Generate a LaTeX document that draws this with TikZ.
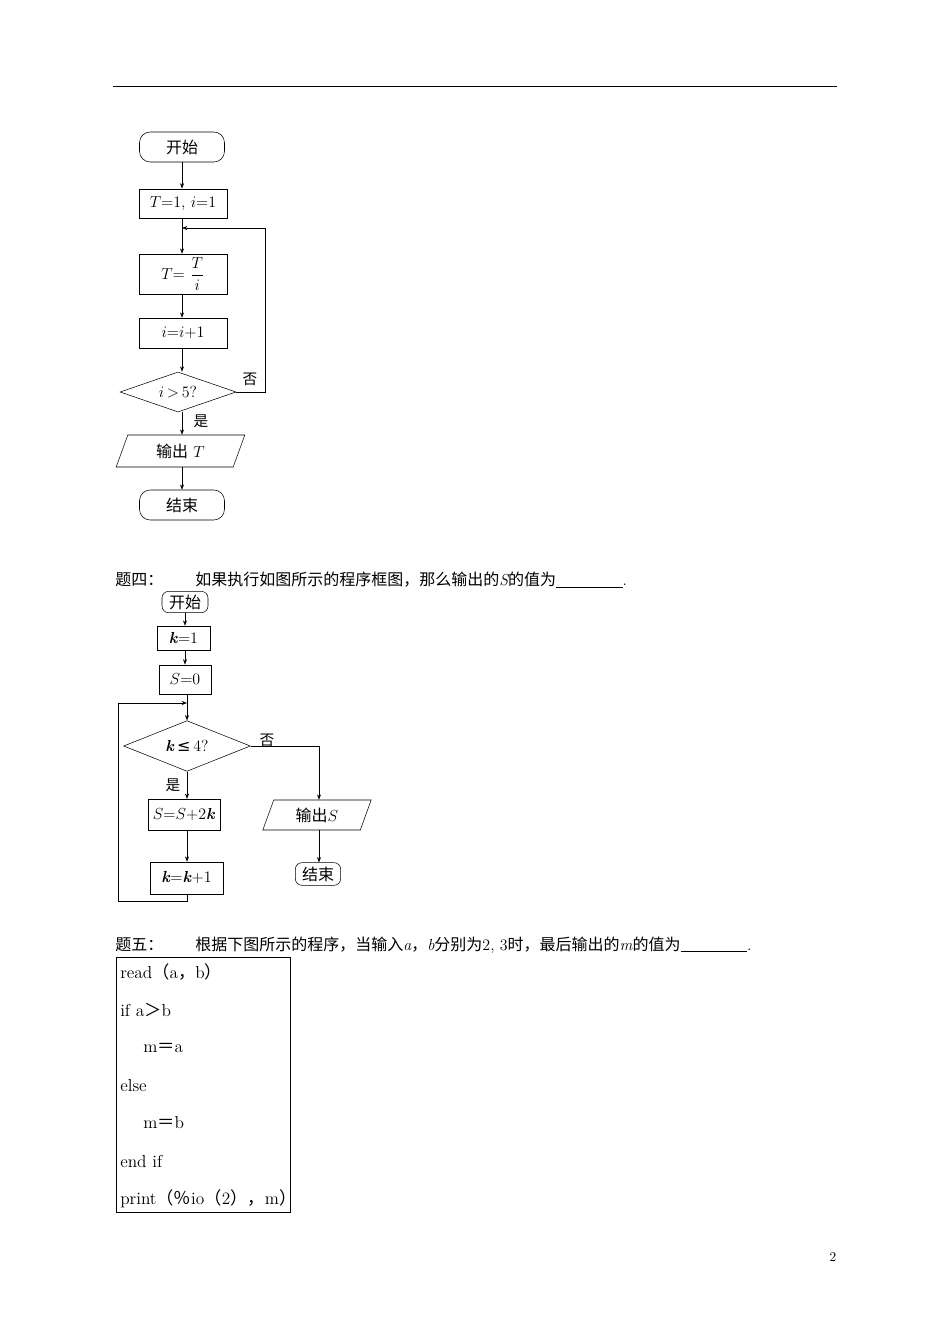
\documentclass[tikz,border=0pt]{standalone}
\usepackage{amsmath}
\usepackage{fontspec}
\newfontfamily\cjk{Noto Sans CJK SC}
\usetikzlibrary{shapes.geometric,arrows.meta}
\begin{document}
\begin{tikzpicture}[x=0.75pt,y=-0.75pt,
 box/.style={draw,rectangle,inner sep=0pt,font=\fontsize{12}{14}\selectfont},
 term/.style={draw,rounded corners=8pt,inner sep=0pt,font=\cjk\fontsize{12}{14}\selectfont},
 dia/.style={draw,diamond,aspect=2.9,inner sep=0pt,font=\fontsize{12}{14}\selectfont},
 io/.style={draw,trapezium,trapezium left angle=70,trapezium right angle=110,inner sep=0pt,font=\fontsize{12}{14}\selectfont},
 lab/.style={font=\cjk\fontsize{11}{13}\selectfont,inner sep=0pt},
 arr/.style={-{Stealth[length=4pt,width=3pt]},thin},
 every path/.style={thin}]
\useasboundingbox (0,0) rectangle (950,1344);
\draw (113,86) -- (837,86);
% figure 1
\node[term,minimum width=63.75pt,minimum height=22.5pt] (s1) at (182,147) {开始};
\node[box,minimum width=66pt,minimum height=22pt] (b1) at (183,203.5) {$T$=1, $i$=1};
\node[box,minimum width=66pt,minimum height=30pt] (b2) at (183,274) {$T$= $\dfrac{T}{i}$};
\node[box,minimum width=66pt,minimum height=22.5pt] (b3) at (183,333) {$i$=$i$+1};
\node[dia,minimum width=87pt,minimum height=30pt] (d1) at (178,392) {$i$\,>\,5?};
\node[io,minimum width=60pt,minimum height=24pt] (o1) at (180.5,451) {{\cjk 输出} $T$};
\node[term,minimum width=63.75pt,minimum height=22.5pt] (e1) at (182,505) {结束};
\coordinate (j1) at (182,228);
\coordinate (r1) at (265,228);
\draw[arr] (s1) -- (b1.north -| s1);
\draw (b1.south -| s1) -- (j1);
\draw[arr] (j1) -- (b2.north -| s1);
\draw[arr] (b2.south -| s1) -- (b3.north -| s1);
\draw[arr] (b3.south -| s1) -- (d1.north -| s1);
\draw[arr] (d1.south -| s1) -- (o1.north -| s1);
\draw[arr] (o1.south -| s1) -- (e1);
\draw[arr] (d1.east) -| (r1) -- (j1);
\node[lab] at (250,379) {否};
\node[lab] at (201,421) {是};
% header 4
\node[anchor=west,inner sep=0pt,font=\cjk\fontsize{12}{14}\selectfont] (t4) at (115,580) {题四：\hspace{2em}如果执行如图所示的程序框图，那么输出的{\rmfamily\itshape S}的值为\rule[-1pt]{50pt}{0.4pt}{\rmfamily .}};
% figure 2
\node[term,rounded corners=5pt,minimum width=34.5pt,minimum height=16pt] (s2) at (185,602) {开始};
\node[box,minimum width=40pt,minimum height=18pt] (c1) at (183.5,638) {\textbf{\textit{k}}=1};
\node[box,minimum width=39pt,minimum height=22pt] (c2) at (185,679.5) {$S$=0};
\node[dia,minimum width=95pt,minimum height=38pt] (d2) at (187,746) {\textbf{\textit{k}}\,{\fontspec{DejaVu Sans}≤}\,4?};
\node[box,minimum width=54pt,minimum height=23pt] (c3) at (184,814.5) {$S$=$S$+2\textbf{\textit{k}}};
\node[box,minimum width=55pt,minimum height=24pt] (c4) at (186.5,878) {\textbf{\textit{k}}=\textbf{\textit{k}}+1};
\node[io,minimum width=48pt,minimum height=22.5pt] (o2) at (317,815) {{\cjk 输出}$S$};
\node[term,rounded corners=5pt,minimum width=34pt,minimum height=17pt] (e2) at (318,874) {结束};
\coordinate (j2) at (187,703);
\coordinate (q1) at (187,901);
\coordinate (q2) at (118,901);
\coordinate (q3) at (118,703);
\coordinate (r2) at (319,746);
\draw[arr] (s2.south -| s2) -- (c1.north -| s2);
\draw[arr] (c1.south -| s2) -- (c2.north -| s2);
\draw (c2.south -| j2) -- (j2);
\draw[arr] (j2) -- (d2.north);
\draw[arr] (d2.south) -- (c3.north -| d2);
\draw[arr] (c3.south -| d2) -- (c4.north -| d2);
\draw[arr] (c4.south -| d2) -- (q1) -- (q2) -- (q3) -- (j2);
\draw[arr] (d2.east) -- (r2) -- (o2.north -| r2);
\draw[arr] (o2.south -| r2) -- (e2.north -| r2);
\node[lab] at (267,740) {否};
\node[lab] at (173,785) {是};
% header 5
\node[anchor=west,inner sep=0pt,font=\cjk\fontsize{12}{14}\selectfont] (t5) at (115,945) {题五：\hspace{2em}根据下图所示的程序，当输入{\rmfamily\itshape a}，{\rmfamily\itshape b}分别为{\rmfamily 2, 3}时，最后输出的{\rmfamily\itshape m}的值为\rule[-1pt]{50pt}{0.4pt}{\rmfamily .}};
% code box
\node[draw,rectangle,minimum width=130.5pt,minimum height=191pt,inner sep=0pt] (cb) at (203,1084.5) {};
\begin{scope}[every node/.style={anchor=west,inner sep=0pt,font=\fontsize{13}{15}\selectfont}]
\node (l1) at (120,972) {read{\cjk（}a{\cjk，}b{\cjk）}};
\node (l2) at (120,1010) {if a{\cjk ＞}b};
\node (l3) at (143,1048) {m{\cjk ＝}a};
\node (l4) at (120,1086) {else};
\node (l5) at (143,1123) {m{\cjk ＝}b};
\node (l6) at (120,1161) {end if};
\node (l7) at (120,1199) {print{\cjk（}{\cjk ％}io{\cjk（}2{\cjk ）}{\cjk ，}m{\cjk ）}};
\end{scope}
\node[inner sep=0pt,font=\fontsize{10}{12}\selectfont] (pn) at (833,1257) {2};
\end{tikzpicture}
\end{document}
